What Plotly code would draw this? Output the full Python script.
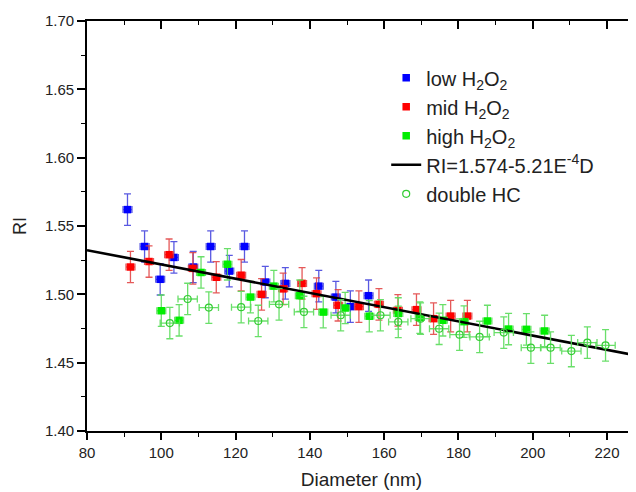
import plotly.graph_objects as go

# ---- data ----
low_x = [90.9, 95.5, 99.7, 103.4, 108.6, 113.3, 118.3, 122.4, 128.0, 133.4, 142.4, 147.0, 150.9, 155.8]
low_y = [1.562, 1.535, 1.511, 1.527, 1.520, 1.535, 1.517, 1.535, 1.509, 1.508, 1.506, 1.498, 1.491, 1.499]

mid_x = [91.7, 96.7, 102.1, 108.5, 114.8, 121.5, 127.0, 132.8, 137.9, 141.8, 147.6, 153.2, 158.6, 163.7, 168.7, 173.3, 177.9, 182.4]
mid_y = [1.520, 1.524, 1.529, 1.519, 1.5125, 1.514, 1.500, 1.504, 1.508, 1.5005, 1.492, 1.491, 1.4927, 1.4883, 1.4888, 1.4822, 1.4841, 1.4841]

high_x = [100.0, 104.8, 110.7, 117.8, 124.0, 130.3, 137.3, 143.6, 149.5, 156.0, 163.8, 169.6, 175.8, 181.5, 187.8, 193.5, 198.3, 203.2]
high_y = [1.488, 1.481, 1.516, 1.522, 1.498, 1.506, 1.499, 1.487, 1.490, 1.484, 1.486, 1.483, 1.481, 1.480, 1.4805, 1.4746, 1.4744, 1.4732]

hc_x = [102.3, 107.1, 112.8, 121.5, 126.1, 131.7, 138.4, 148.3, 159.0, 163.8, 169.8, 174.8, 180.3, 185.7, 192.2, 199.5, 204.8, 210.4, 214.7, 219.6]
hc_y = [1.479, 1.4966, 1.4903, 1.4906, 1.4805, 1.4927, 1.4871, 1.4847, 1.4847, 1.4798, 1.4822, 1.4748, 1.4705, 1.4688, 1.472, 1.461, 1.461, 1.4585, 1.4647, 1.4627]

fit_x = [80, 228]
fit_y = [1.5323, 1.4552]

ri_err = 0.0115
sq_xerr = 1.2
hc_xerr = 2.6

FONT = "Liberation Sans, Arial, sans-serif"

def series(x, y, name, color, ecolor, symbol, size, xerr):
    return go.Scatter(
        x=x, y=y, mode="markers", name=name,
        marker=dict(symbol=symbol, size=size, color=color,
                    line=dict(width=1.2 if "open" in symbol else 0, color=color)),
        error_y=dict(type="constant", value=ri_err, color=ecolor, thickness=1.3, width=3.5),
        error_x=dict(type="constant", value=xerr, color=ecolor, thickness=1.3, width=3.5),
    )

fig = go.Figure()
fig.add_trace(series(low_x, low_y, "low H<sub>2</sub>O<sub>2</sub>", "#0000ff", "rgba(60,60,220,0.85)", "square", 7.5, sq_xerr))
fig.add_trace(series(mid_x, mid_y, "mid H<sub>2</sub>O<sub>2</sub>", "#ff0000", "rgba(225,60,60,0.85)", "square", 7.5, sq_xerr))
fig.add_trace(series(high_x, high_y, "high H<sub>2</sub>O<sub>2</sub>", "#00ee00", "rgba(90,220,90,0.9)", "square", 7.5, sq_xerr))
fig.add_trace(go.Scatter(x=fit_x, y=fit_y, mode="lines", name="RI=1.574-5.21E<sup>-4</sup>D",
                         line=dict(color="black", width=2.6)))
fig.add_trace(series(hc_x, hc_y, "double HC", "#33cc33", "rgba(90,220,90,0.9)", "circle-open", 7, hc_xerr))
# dummy trace for the mirrored top axis
fig.add_trace(go.Scatter(x=[fit_x[0]], y=[fit_y[0]], xaxis="x2", mode="markers",
                         marker=dict(opacity=0), showlegend=False, hoverinfo="skip"))

# the page body has an 8px margin, so the figure is sized to the visible area
fig.update_layout(
    width=628, height=484,
    margin=dict(l=79, r=0, t=13, b=61),
    paper_bgcolor="white", plot_bgcolor="white",
    font=dict(family=FONT, color="#222222"),
    showlegend=True,
    legend=dict(x=0.545, y=0.909, xanchor="left", yanchor="top",
                font=dict(size=20, family=FONT, color="#222222"),
                bgcolor="rgba(0,0,0,0)", tracegroupgap=0),
    xaxis=dict(range=[80, 227.8], dtick=20, tick0=80, showgrid=False, zeroline=False,
               showline=True, linecolor="black", linewidth=1.6,
               ticks="outside", ticklen=7, tickwidth=1.6, tickcolor="black",
               minor=dict(ticks="outside", ticklen=4, dtick=10, tickcolor="black", tickwidth=1.4),
               tickfont=dict(size=15, family=FONT, color="#222222"),
               title=dict(text="Diameter (nm)", font=dict(size=19, family=FONT, color="#222222"), standoff=13)),
    xaxis2=dict(range=[80, 227.8], overlaying="x", side="top", matches="x", dtick=20, tick0=80,
                showgrid=False, zeroline=False, showticklabels=False,
                showline=True, linecolor="black", linewidth=1.6,
                ticks="inside", ticklen=8, tickwidth=1.6, tickcolor="black",
                minor=dict(ticks="inside", ticklen=4, dtick=10, tickcolor="black", tickwidth=1.4)),
    yaxis=dict(range=[1.40, 1.70], dtick=0.05, tickformat=".2f", showgrid=False, zeroline=False,
               showline=True, linecolor="black", linewidth=1.6,
               ticks="outside", ticklen=8, tickwidth=1.6, tickcolor="black",
               minor=dict(ticks="outside", ticklen=4, dtick=0.025, tickcolor="black", tickwidth=1.4),
               tickfont=dict(size=15, family=FONT, color="#222222"),
               title=dict(text="RI", font=dict(size=18, family=FONT, color="#222222"), standoff=14)),
)

fig.write_html("out.html")
